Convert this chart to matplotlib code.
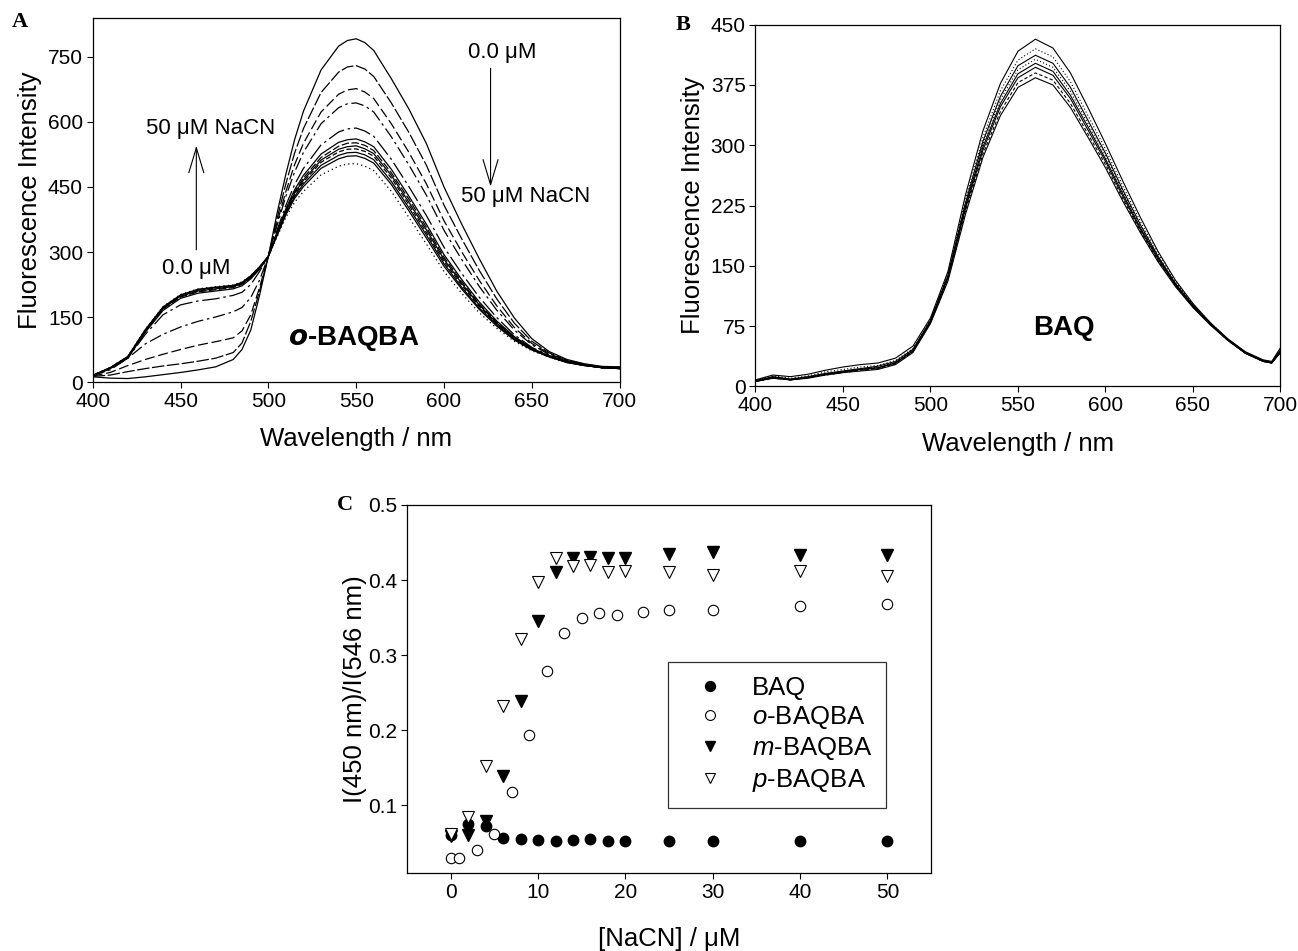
import matplotlib
matplotlib.use('Agg')
import matplotlib.pyplot as plt

plt.rcParams['font.family'] = ['Liberation Sans', 'DejaVu Sans']
plt.rcParams['mathtext.fontset'] = 'custom'
plt.rcParams['mathtext.rm'] = 'Liberation Sans'
plt.rcParams['mathtext.it'] = 'Liberation Sans:italic'

# ---- panel A: o-BAQBA emission spectra during NaCN titration (0 -> 50 uM) ----
wl_a = [400, 410, 420, 430, 440, 450, 460, 470, 480, 485, 490, 495, 500,
        505, 510, 515, 520, 530, 540, 545, 550, 555, 560, 570, 580, 590,
        600, 610, 620, 630, 640, 650, 660, 670, 680, 690, 700]

oba_01 = [12, 9, 8, 12, 17, 22, 28, 35, 52, 75, 120, 200, 290,
          390, 480, 560, 625, 720, 775, 788, 792, 783, 765, 700, 630, 550,
          450, 365, 285, 210, 148, 100, 70, 52, 42, 36, 35]
oba_02 = [13, 16, 24, 31, 37, 42, 48, 55, 68, 90, 140, 210, 290,
          378, 458, 529, 585, 668, 715, 727, 730, 722, 705, 644, 576, 500,
          408, 331, 258, 192, 136, 94, 67, 50, 41, 35, 34]
oba_03 = [14, 22, 38, 52, 64, 75, 85, 93, 102, 118, 155, 218, 290,
          368, 440, 502, 551, 623, 664, 674, 677, 669, 654, 596, 530, 457,
          372, 301, 235, 176, 126, 89, 65, 49, 40, 35, 33]
oba_04 = [15, 28, 55, 88, 110, 127, 140, 150, 162, 172, 195, 235, 290,
          362, 429, 485, 530, 596, 633, 642, 644, 637, 623, 566, 501, 431,
          350, 283, 221, 166, 120, 86, 63, 48, 40, 34, 33]
oba_05 = [16, 30, 55, 110, 155, 178, 187, 192, 200, 207, 225, 255, 290,
          351, 408, 456, 493, 547, 577, 584, 586, 579, 567, 514, 451, 384,
          311, 251, 196, 149, 109, 80, 61, 47, 39, 34, 32]
oba_06 = [15, 31, 55, 115, 165, 193, 205, 210, 215, 222, 238, 260, 290,
          346, 400, 444, 477, 526, 553, 559, 561, 554, 543, 491, 429, 364,
          294, 237, 185, 141, 105, 78, 60, 46, 39, 34, 32]
oba_07 = [15, 32, 56, 117, 168, 196, 208, 213, 218, 225, 240, 262, 290,
          344, 397, 439, 471, 518, 544, 551, 552, 546, 534, 483, 422, 357,
          288, 232, 181, 138, 103, 77, 59, 46, 39, 33, 32]
oba_08 = [15, 32, 57, 118, 170, 198, 210, 215, 220, 227, 242, 263, 290,
          343, 394, 436, 466, 512, 537, 543, 545, 538, 527, 477, 415, 351,
          283, 228, 178, 136, 102, 76, 59, 46, 39, 33, 31]
oba_09 = [15, 33, 58, 119, 171, 199, 212, 217, 221, 228, 243, 264, 290,
          341, 392, 432, 462, 507, 531, 537, 538, 532, 521, 471, 409, 345,
          278, 224, 175, 134, 100, 75, 58, 46, 38, 33, 31]
oba_10 = [15, 33, 58, 120, 172, 200, 213, 218, 222, 229, 244, 265, 290,
          340, 389, 428, 457, 500, 523, 529, 530, 524, 513, 463, 402, 339,
          273, 219, 171, 132, 99, 75, 58, 45, 38, 33, 31]
oba_11 = [15, 33, 59, 121, 173, 201, 214, 219, 223, 230, 245, 266, 290,
          338, 386, 424, 451, 493, 515, 521, 522, 516, 505, 456, 395, 332,
          267, 215, 168, 129, 97, 74, 58, 45, 38, 33, 31]
oba_12 = [16, 34, 59, 122, 174, 202, 215, 220, 224, 231, 246, 266, 290,
          335, 380, 415, 440, 478, 498, 503, 504, 498, 488, 440, 380, 318,
          255, 205, 160, 124, 94, 72, 57, 45, 38, 33, 31]

# ---- panel B: BAQ emission spectra (hardly changes with NaCN) ----
wl_b = [400, 410, 420, 430, 440, 450, 460, 470, 480, 490,
        500, 510, 520, 530, 540, 550, 560, 570, 580, 590,
        600, 610, 620, 630, 640, 650, 660, 670, 680, 690, 695, 700]

baq_1 = [8, 14, 12, 15, 20, 24, 27, 29, 35, 50,
         85, 143, 238, 318, 377, 417, 432, 421, 390, 347,
         302, 255, 210, 168, 132, 103, 79, 59, 43, 33, 31, 48]
baq_2 = [7, 13, 10, 13, 18, 21, 24, 26, 32, 47,
         83, 140, 232, 310, 368, 406, 420, 410, 379, 337,
         295, 249, 205, 165, 130, 102, 79, 58, 42, 32, 30, 46]
baq_3 = [7, 12, 9, 12, 16, 19, 22, 25, 31, 46,
         82, 138, 228, 305, 361, 399, 412, 402, 372, 331,
         290, 244, 201, 162, 128, 101, 78, 58, 42, 32, 30, 45]
baq_4 = [7, 12, 9, 12, 16, 19, 22, 24, 30, 45,
         81, 137, 226, 302, 357, 394, 407, 397, 367, 327,
         287, 242, 200, 161, 128, 100, 78, 58, 42, 32, 30, 44]
baq_5 = [6, 11, 8, 11, 15, 18, 21, 23, 29, 44,
         80, 136, 224, 298, 352, 389, 402, 392, 362, 323,
         283, 239, 197, 160, 127, 100, 78, 58, 42, 32, 29, 44]
baq_6 = [6, 11, 8, 11, 15, 18, 21, 23, 29, 44,
         80, 135, 221, 294, 348, 384, 397, 387, 358, 319,
         280, 236, 195, 158, 126, 99, 77, 57, 41, 31, 29, 43]
baq_7 = [6, 10, 8, 11, 14, 17, 20, 22, 28, 43,
         79, 133, 218, 289, 342, 378, 390, 381, 352, 314,
         276, 233, 193, 156, 125, 99, 77, 57, 41, 31, 29, 42]
baq_8 = [6, 10, 8, 10, 14, 17, 19, 21, 27, 42,
         78, 131, 214, 285, 337, 372, 384, 375, 347, 310,
         272, 230, 191, 155, 124, 98, 76, 57, 41, 31, 29, 42]

# ---- panel C: intensity ratio vs [NaCN] ----
nacn_baq = [0, 2, 4, 6, 8, 10, 12, 14, 16, 18, 20, 25, 30, 40, 50]
ratio_baq = [0.060, 0.075, 0.073, 0.057, 0.055, 0.054, 0.053, 0.054,
             0.055, 0.053, 0.053, 0.052, 0.052, 0.053, 0.053]
nacn_o = [0, 1, 3, 5, 7, 9, 11, 13, 15, 17, 19, 22, 25, 30, 40, 50]
ratio_o = [0.030, 0.030, 0.040, 0.062, 0.118, 0.194, 0.279, 0.329,
           0.349, 0.356, 0.354, 0.358, 0.360, 0.360, 0.366, 0.368]
nacn_mp = [0, 2, 4, 6, 8, 10, 12, 14, 16, 18, 20, 25, 30, 40, 50]
ratio_m = [0.059, 0.061, 0.079, 0.139, 0.239, 0.345, 0.411, 0.430,
           0.431, 0.430, 0.429, 0.435, 0.437, 0.434, 0.434]
ratio_p = [0.062, 0.084, 0.152, 0.232, 0.322, 0.398, 0.430, 0.419,
           0.420, 0.411, 0.412, 0.411, 0.407, 0.412, 0.406]

TICK_FS = 15
LABEL_FS = 18.5


def style_axes(ax):
    for s in ax.spines.values():
        s.set_linewidth(0.9)
    ax.tick_params(direction='out', length=4, width=0.8,
                   labelsize=TICK_FS, pad=3)


fig = plt.figure(figsize=(12.98, 9.51), dpi=100)

# panel A
axA = fig.add_axes([0.0714, 0.5983, 0.406, 0.3828])
spectra_a = [oba_01, oba_02, oba_03, oba_04, oba_05, oba_06,
             oba_07, oba_08, oba_09, oba_10, oba_11, oba_12]
styles_a = ['-', (0, (10, 2)), (0, (8, 3)), (0, (10, 3, 2, 3)),
            (0, (14, 3, 2, 3)), '-', (0, (6, 2)), '-', (0, (4, 2)),
            '-', '-', (0, (1, 2.5))]
for y, ls in zip(spectra_a, styles_a):
    axA.plot(wl_a, y, color='k', lw=0.9, ls=ls)
axA.set_xlim(400, 700)
axA.set_ylim(0, 840)
axA.set_xticks(range(400, 701, 50))
axA.set_yticks(range(0, 751, 150))
axA.set_xlabel('Wavelength / nm', fontsize=LABEL_FS, labelpad=12)
axA.set_ylabel('Fluorescence Intensity', fontsize=LABEL_FS, labelpad=4)
style_axes(axA)

arrow = dict(arrowstyle='->,head_length=1.0,head_width=0.3', lw=0.8,
             color='k', mutation_scale=18, shrinkA=0, shrinkB=0)
axA.annotate('', xy=(459, 545), xytext=(459, 305), arrowprops=arrow)
axA.annotate('', xy=(626.5, 451), xytext=(626.5, 724), arrowprops=arrow)
axA.text(467, 585, '50 μM NaCN', fontsize=16, ha='center', va='center')
axA.text(459, 262, '0.0 μM', fontsize=16, ha='center', va='center')
axA.text(633, 760, '0.0 μM', fontsize=16, ha='center', va='center')
axA.text(646.5, 428, '50 μM NaCN', fontsize=16, ha='center', va='center')
axA.text(548.5, 100, r'$\mathbfit{o}$-BAQBA', fontsize=20,
         fontweight='bold', ha='center', va='center')

# panel B
axB = fig.add_axes([0.582, 0.5938, 0.4045, 0.3802])
spectra_b = [baq_1, baq_2, baq_3, baq_4, baq_5, baq_6, baq_7, baq_8]
styles_b = ['-', (0, (1, 2)), '-', (0, (1, 2)), '-', '-', (0, (3, 2)), '-']
for y, ls in zip(spectra_b, styles_b):
    axB.plot(wl_b, y, color='k', lw=0.8, ls=ls)
axB.set_xlim(400, 700)
axB.set_ylim(0, 450)
axB.set_xticks(range(400, 701, 50))
axB.set_yticks(range(0, 451, 75))
axB.set_xlabel('Wavelength / nm', fontsize=LABEL_FS, labelpad=12)
axB.set_ylabel('Fluorescence Intensity', fontsize=LABEL_FS, labelpad=4)
style_axes(axB)
axB.text(576, 72, 'BAQ', fontsize=20, fontweight='bold',
         ha='center', va='center')

# panel C
axC = fig.add_axes([0.3136, 0.082, 0.4037, 0.387])
axC.plot(nacn_baq, ratio_baq, ls='none', marker='o', ms=7.5, mfc='k',
         mec='k', label='BAQ')
axC.plot(nacn_o, ratio_o, ls='none', marker='o', ms=7.5, mfc='white',
         mec='k', mew=0.8, label=r'$\mathit{o}$-BAQBA')
axC.plot(nacn_mp, ratio_m, ls='none', marker='v', ms=8, mfc='k',
         mec='k', label=r'$\mathit{m}$-BAQBA')
axC.plot(nacn_mp, ratio_p, ls='none', marker='v', ms=8, mfc='white',
         mec='k', mew=0.8, label=r'$\mathit{p}$-BAQBA')
axC.set_xlim(-5, 55)
axC.set_ylim(0.01, 0.5)
axC.set_xticks(range(0, 51, 10))
axC.set_yticks([0.1, 0.2, 0.3, 0.4, 0.5])
axC.set_xlabel('[NaCN] / μM', fontsize=LABEL_FS, labelpad=18)
axC.set_ylabel('I(450 nm)/I(546 nm)', fontsize=LABEL_FS, labelpad=1)
style_axes(axC)
leg = axC.legend(loc='upper left', bbox_to_anchor=(0.498, 0.573),
                 fontsize=18.5, frameon=True, fancybox=False,
                 edgecolor='k', borderpad=0.55, labelspacing=0.16,
                 handlelength=2.2, handletextpad=0.5, borderaxespad=0,
                 markerscale=0.95)
leg.get_frame().set_linewidth(0.9)

# panel letters
for letter, (x, y) in zip('ABC', [(20, 22), (683, 25), (345, 505)]):
    fig.text(x / 1298, 1 - y / 951, letter, fontsize=16, fontweight='bold',
             family='Liberation Serif', ha='center', va='center')

fig.savefig('out.png', dpi=100)
